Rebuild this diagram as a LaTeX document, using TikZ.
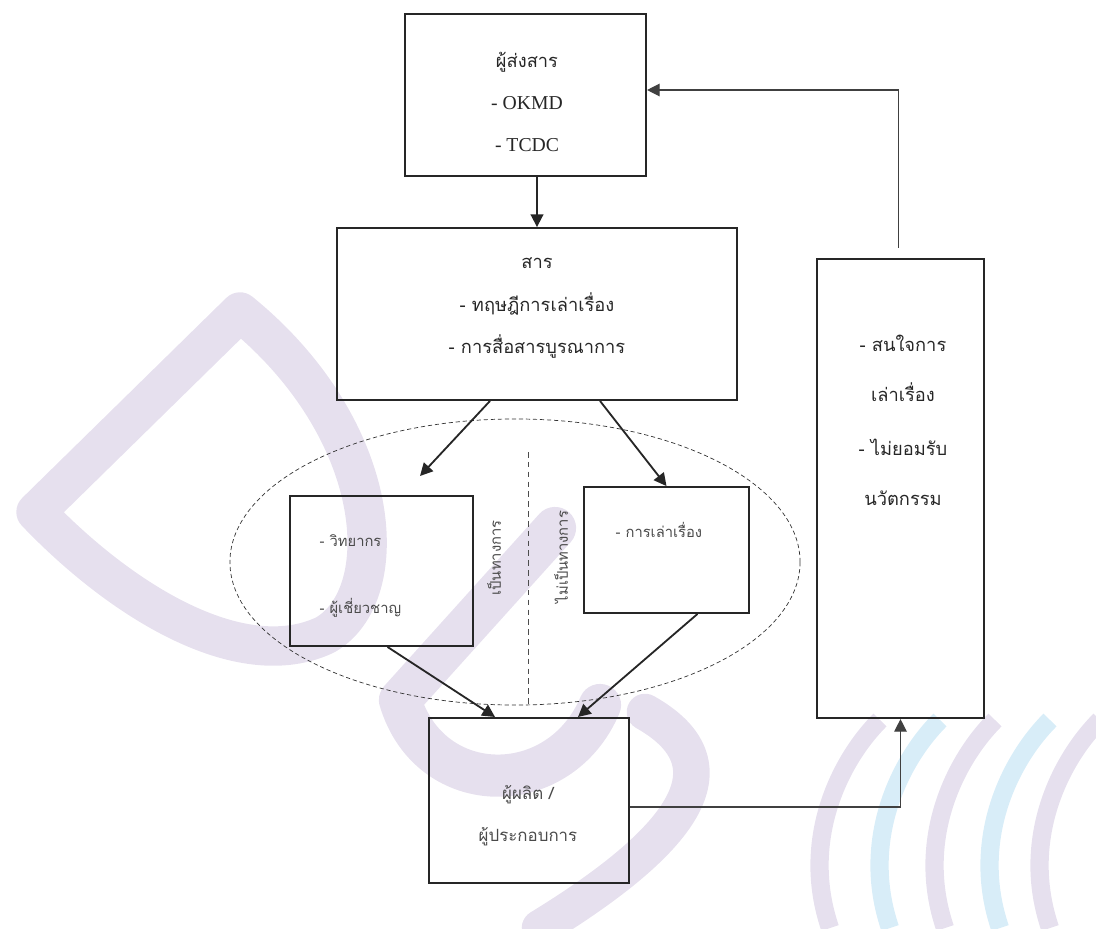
\documentclass[tikz,border=0pt]{standalone}
\usepackage{fontspec}
\setmainfont{Liberation Serif}
\newfontfamily\thaifont[Script=Thai]{Loma}
\usetikzlibrary{positioning, arrows.meta, shapes.geometric, calc, backgrounds}

\definecolor{wmpurple}{HTML}{E6E0EE}
\definecolor{wmblue}{HTML}{D8EDF8}
\definecolor{inkgray}{HTML}{4A4A4A}

\tikzset{
  % boxes
  block/.style={draw=black!85, line width=1.3pt, inner sep=0pt},
  txt/.style={font=\thaifont\fontsize{13}{30}\selectfont, text=black!85,
    align=center, inner sep=1pt},
  smalltxt/.style={font=\thaifont\fontsize{10.5}{13}\selectfont, text=inkgray,
    inner sep=1pt},
  sidelabel/.style={font=\thaifont\fontsize{10.5}{13}\selectfont, text=inkgray,
    rotate=90, inner sep=1pt},
  % grouping ellipse
  zone/.style={draw=black!80, ellipse, dash pattern=on 3pt off 2pt,
    line width=0.5pt, inner sep=0pt},
  divider/.style={draw=black!70, dash pattern=on 4pt off 3pt, line width=0.6pt},
  % connectors
  flow/.style={-{Triangle[length=9pt,width=9pt]}, line width=1.3pt, draw=black!85},
  back/.style={-{Triangle[length=9pt,width=9pt]}, line width=0.9pt, draw=black!75},
  % watermark
  wm/.style={draw=wmpurple, line cap=round, line join=round},
}

\begin{document}
\begin{tikzpicture}[x=0.025cm, y=-0.025cm]
  \useasboundingbox (0,0) rectangle (1096,928);

  %% -- watermark --
  \draw[wm, line width=28pt] (240,312) -- (36,512)
    .. controls (120,600) and (240,675) .. (325,635)
    .. controls (395,595) and (385,430) .. cycle;
  \draw[wm, line width=30pt] (555,528) -- (400,700)
    .. controls (430,800) and (560,800) .. (600,705);
  \draw[wm, line width=26pt] (645,712) .. controls (730,760) and (700,830) .. (540,928);
  \foreach \x/\c in {860/wmpurple, 920/wmblue, 975/wmpurple, 1030/wmblue, 1080/wmpurple}
    \draw[draw=\c, line width=13pt] (\x-30,928) .. controls (\x-60,840) and (\x-20,760) .. (\x+20,720);

  %% -- boxes --
  \node[block, minimum width=6.03cm, minimum height=4.05cm] (sender)   at (525.5,95)  {};
  \node[block, minimum width=10cm,   minimum height=4.3cm]  (msg)      at (537,314)   {};
  \node[block, minimum width=4.58cm, minimum height=3.75cm] (formal)   at (381.5,571) {};
  \node[block, minimum width=4.13cm, minimum height=3.15cm] (informal) at (666.5,550) {};
  \node[block, minimum width=5cm,    minimum height=4.13cm] (producer) at (529,800.5) {};
  \node[block, minimum width=4.18cm, minimum height=11.48cm] (receiver) at (900.5,488.5) {};

  %% -- texts --
  \node[txt] (senderTxt) at (527,102)
    {ผู้ส่งสาร\\{\rmfamily\fontsize{14}{30}\selectfont - OKMD}\\{\rmfamily\fontsize{14}{30}\selectfont - TCDC}};
  \node[txt] (msgTxt) at (537,308) {สาร\\- ทฤษฎีการเล่าเรื่อง\\- การสื่อสารบูรณาการ};
  \node[smalltxt, font=\thaifont\fontsize{10.5}{47}\selectfont, align=left, anchor=west]
    (formalTxt) at (318,576) {- วิทยากร\\- ผู้เชี่ยวชาญ};
  \node[smalltxt, anchor=west] (informalTxt) at (614,530) {- การเล่าเรื่อง};
  \node[txt, font=\thaifont\fontsize{13}{35.5}\selectfont]
    (receiverTxt) at (903,420) {- สนใจการ\\เล่าเรื่อง\\[3pt]- ไม่ยอมรับ\\นวัตกรรม};
  \node[txt, font=\thaifont\fontsize{12}{30}\selectfont, text=inkgray]
    (producerTxt) at (528,816) {ผู้ผลิต /\\ผู้ประกอบการ};

  %% -- formal / informal channel --
  \node[zone, minimum width=14.25cm, minimum height=7.15cm] (channel) at (515,562) {};
  \coordinate (divTop) at (528,452);
  \draw[divider] (divTop) -- (divTop |- channel.south);
  \node[sidelabel] (formalLbl)   at (494,558) {เป็นทางการ};
  \node[sidelabel] (informalLbl) at (561,557) {ไม่เป็นทางการ};

  %% -- connectors --
  \coordinate (formalIn) at (420,476);
  \draw[flow] (sender.south -| msg.north) -- (msg.north);
  \draw[flow] ($(msg.south)+(-47,0)$) -- (formalIn);
  \draw[flow] ($(msg.south)+(63,0)$) -- (informal.north);
  \draw[flow] ($(formal.south)+(6,0)$) -- ($(producer.north)+(-34,0)$);
  \draw[flow] ($(informal.south)+(31,0)$) -- ($(producer.north)+(49,0)$);
  \draw[back] ($(producer.east)+(0,6.5)$) -| (receiver.south);
  \draw[back] ($(receiver.north)+(-2,-10)$) |- ($(sender.east)+(0,-5)$);

\end{tikzpicture}
\end{document}
